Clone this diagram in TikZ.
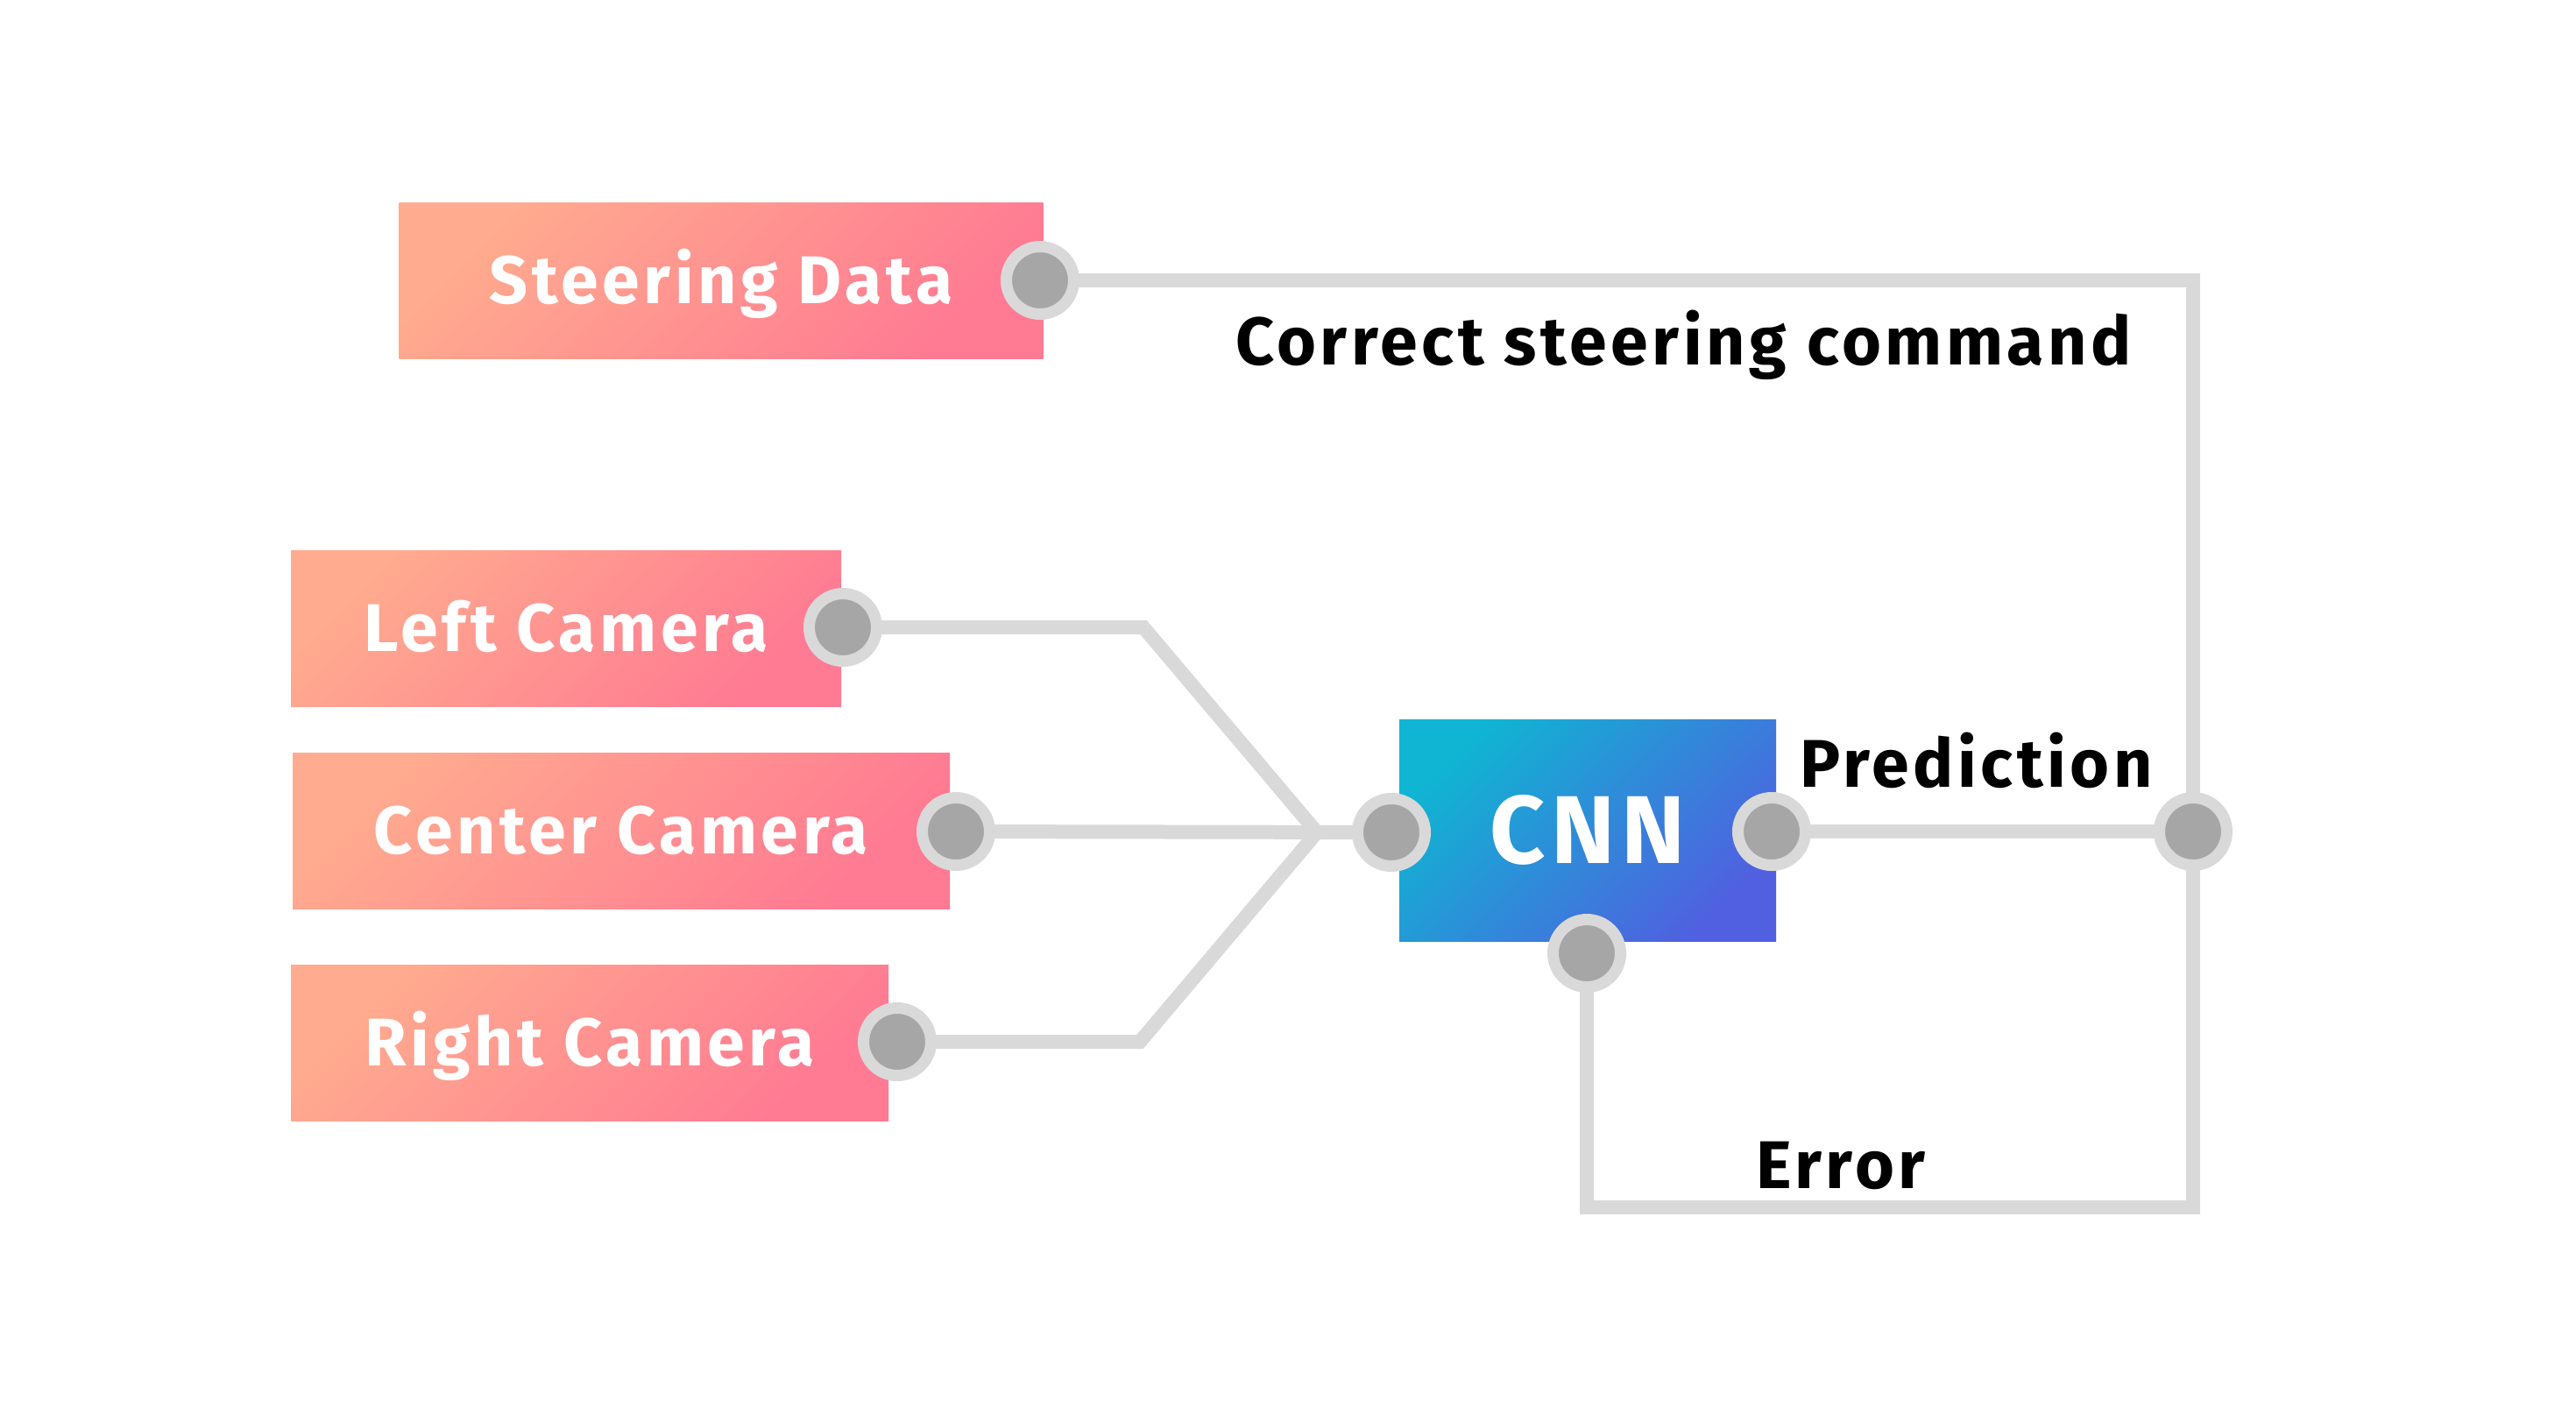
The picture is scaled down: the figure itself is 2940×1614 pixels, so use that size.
\documentclass[tikz,border=0pt]{standalone}
\usepackage{fontspec}
\setmainfont{Fira Sans}[LetterSpace=6]
\usetikzlibrary{backgrounds}
\definecolor{linegray}{RGB}{217,217,217}
\definecolor{dotgray}{RGB}{166,166,166}
\definecolor{pinkA}{RGB}{255,171,143}
\definecolor{pinkB}{RGB}{255,122,146}
\definecolor{blueA}{RGB}{15,181,210}
\definecolor{blueB}{RGB}{80,96,224}
\begin{document}
\begin{tikzpicture}[x=0.5pt,y=-0.5pt,
  lbl/.style={font=\fontsize{38.5}{40}\selectfont\bfseries, inner sep=0pt, outer sep=0pt},
  srcbox/.style={lbl, text=white, rectangle, text height=26.5pt, text depth=0pt,
    minimum height=89pt, top color=pinkA, bottom color=pinkB, shading angle=45},
  cnnbox/.style={font=\fontsize{55}{56}\selectfont\bfseries, inner sep=0pt, outer sep=0pt,
    text=white, rectangle, text height=38pt, text depth=0pt,
    minimum width=215pt, minimum height=126.5pt,
    top color=blueA, bottom color=blueB, shading angle=45},
  port/.style={circle, fill=dotgray, draw=linegray, line width=6.5pt, minimum size=38.5pt, inner sep=0pt},
  conn/.style={draw=linegray, line width=8pt, line join=miter}
]
% boxes
\node[srcbox, minimum width=367.5pt] (sd) at (823,320) {Steering Data};
\node[srcbox, minimum width=314pt] (lc) at (646,717) {Left Camera};
\node[srcbox, minimum width=375pt] (cc) at (709,948) {Center Camera};
\node[srcbox, minimum width=341pt] (rc) at (673,1190) {Right Camera};
\node[cnnbox] (cnn) at (1812,947.5) {CNN};

% ports
\node[port] (sdp) at (1187,320) {};
\node[port] (lcp) at (962,716) {};
\node[port] (ccp) at (1091,949) {};
\node[port] (rcp) at (1024,1189) {};
\node[port] (cnl) at (1588,950) {};
\node[port] (cnr) at (2022,949) {};
\node[port] (cnb) at (1811,1088) {};
\node[port] (jn) at (2503,949) {};

% bend points
\coordinate (lbend) at (1305,716);
\coordinate (rbend) at (1301,1189);
\coordinate (fan) at (1503,950);
\coordinate (ecorner) at (2503,1378);

% labels
\node[lbl, anchor=base west] (corr) at (1410,416) {Correct steering command};
\node[lbl, anchor=base west] (pred) at (2054,898) {Prediction};
\node[lbl, anchor=base west] (err) at (2004,1356) {Error};

\begin{pgfonlayer}{background}
  \fill[white] (0,0) rectangle (2940,1614);
  \path[conn] (sdp.center) -| (ecorner) -| (cnb.center);
  \path[conn] (cnr.center) -- (jn.center);
  \path[conn] (lcp.center) -- (lbend) -- (fan) -- (cnl.center);
  \path[conn] (rcp.center) -- (rbend) -- (fan);
  \path[conn] (ccp.center) -- (cnl.center);
\end{pgfonlayer}
\useasboundingbox (0,0) rectangle (2940,1614);
\end{tikzpicture}
\end{document}
